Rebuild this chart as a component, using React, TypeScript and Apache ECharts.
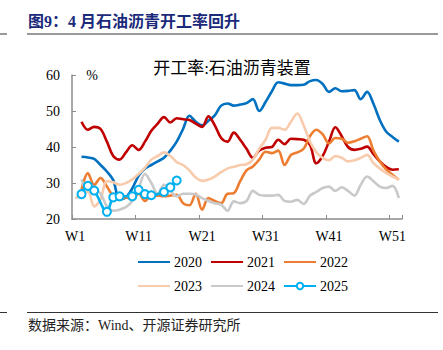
import React, { useEffect, useRef } from "react";
import * as echarts from "echarts";

const weeks: string[] = Array.from({ length: 52 }, (_, i) => `W${i + 1}`);

const s2020 = [null, 37.3, 37.1, 36.7, 35.0, 33.2, 30.8, 25.5, 26.0, 28.5, 32.0, 34.0, 35.0, 36.0, 37.0, 39.0, 41.5, 45.0, 48.7, 47.0, 46.0, 47.3, 48.8, 51.5, 52.1, 51.5, 51.8, 52.2, 53.3, 50.0, 52.5, 55.5, 58.0, 57.6, 57.2, 57.2, 57.3, 58.3, 58.6, 57.5, 55.3, 56.3, 55.5, 55.6, 55.8, 53.3, 55.3, 52.0, 47.5, 44.3, 42.8, 41.5];
const s2021 = [null, 47.0, 44.8, 45.6, 45.0, 41.5, 37.5, 36.5, 38.5, 40.5, 39.2, 41.5, 44.5, 46.5, 48.3, 46.8, 48.0, 47.7, 47.5, 46.5, 45.6, 48.5, 46.0, 42.5, 41.5, 44.0, 42.0, 39.5, 37.0, 39.0, 39.8, 40.0, 42.0, 40.8, 42.3, 42.2, 42.0, 40.6, 35.5, 37.5, 41.5, 45.5, 43.0, 40.0, 39.2, 39.5, 40.1, 38.0, 36.0, 34.5, 33.7, 33.8];
const s2022 = [null, 28.1, 32.7, 29.5, 31.4, 29.0, 26.3, 25.3, 26.0, 25.5, 27.0, 25.0, 26.5, 26.5, 26.3, 26.5, 26.7, 24.4, 23.8, 27.0, 22.6, 25.8, 25.0, 24.4, 27.0, 27.2, 30.5, 33.5, 34.6, 36.5, 38.7, 38.3, 39.0, 35.0, 37.8, 38.5, 39.5, 43.0, 44.8, 43.5, 41.0, 42.5, 42.3, 41.2, 41.6, 42.3, 43.0, 39.0, 36.0, 33.8, 32.3, 30.9];
const s2023 = [25.8, 26.5, 27.6, 23.5, 25.5, 30.5, 30.2, 29.5, 30.0, 31.0, 32.5, 34.3, 36.5, 37.5, 38.5, 37.5, 35.8, 35.0, 33.5, 31.5, 30.6, 31.0, 31.8, 33.0, 34.0, 34.5, 35.0, 35.2, 36.5, 39.5, 42.0, 45.3, 45.3, 44.8, 47.0, 49.3, 46.0, 41.5, 38.5, 37.0, 36.3, 37.5, 37.0, 36.0, 36.3, 37.0, 37.8, 35.5, 34.0, 32.8, 31.8, 31.0];
const s2024 = [null, 31.0, 28.0, 28.1, 27.0, 23.5, 22.3, 22.6, 23.3, 25.0, 28.5, 32.5, 30.0, 27.0, 29.5, 27.8, 26.3, 27.0, 27.0, 26.8, 25.8, 25.0, 24.4, 24.0, 22.3, 24.9, 24.4, 25.0, 27.8, 26.7, 26.5, 26.5, 26.7, 25.0, 24.8, 25.3, 24.2, 26.5, 27.5, 28.6, 29.0, 27.8, 28.8, 27.8, 26.5, 29.5, 31.8, 30.5, 29.0, 28.6, 29.2, 25.8];
const s2025 = [null, 26.9, 29.2, 27.9, null, 22.0, 26.0, 26.3, null, 26.3, 28.1, 26.9, 26.6, null, 27.5, 28.8, 30.7];

const names = ["2020", "2021", "2022", "2023", "2024", "2025"];
const colors = ["#0070C0", "#C00000", "#ED7D31", "#F8CBAD", "#C9C9C9", "#00B0F0"];
const yTicks = { min: 20, max: 60, interval: 10 };

const serif = "'Liberation Serif', 'Times New Roman', 'Noto Sans CJK SC', serif";
const cjk = "'Liberation Serif', 'Noto Sans CJK SC', serif";

export default function App() {
  const ref = useRef<HTMLDivElement>(null);
  useEffect(() => {
    if (!ref.current) return;
    const chart = echarts.init(ref.current, null, { renderer: "svg" });
    const allData = [s2020, s2021, s2022, s2023, s2024, s2025];
    const series: any[] = names.map((n, i) => {
      const is25 = n === "2025";
      return {
        name: n,
        type: "line",
        data: allData[i],
        smooth: 0.35,
        connectNulls: true,
        symbol: is25 ? "circle" : "none",
        symbolSize: 8,
        showSymbol: is25,
        showAllSymbol: true,
        lineStyle: { width: 2.6, color: colors[i] },
        itemStyle: is25
          ? { color: "#FFFFFF", borderColor: colors[i], borderWidth: 2 }
          : { color: colors[i] },
      };
    });
    const legendItem = (n: string) =>
      n === "2025" ? { name: n } : { name: n, itemStyle: { opacity: 0 } };
    const legendBase = {
      left: 132,
      itemWidth: 32,
      itemHeight: 8,
      itemGap: 8,
      textStyle: { color: "#000", fontSize: 14, fontFamily: serif, padding: [0, 0, 0, -1] },
    };
    chart.setOption({
      animation: false,
      backgroundColor: "#FFFFFF",
      grid: { left: 72, right: 41, top: 75, bottom: 131, containLabel: false },
      xAxis: {
        type: "category",
        data: weeks,
        boundaryGap: true,
        axisLine: { lineStyle: { color: "#8C8C8C", width: 1.5 } },
        axisTick: { show: true, inside: true, length: 4, interval: 9, lineStyle: { color: "#8C8C8C" } },
        axisLabel: { interval: 9, color: "#000", fontSize: 14, fontFamily: serif, margin: 10 },
        splitLine: { show: false },
      },
      yAxis: {
        type: "value",
        min: yTicks.min,
        max: yTicks.max,
        interval: yTicks.interval,
        axisLine: { show: true, lineStyle: { color: "#8C8C8C", width: 1.5 } },
        axisTick: { show: true, inside: true, length: 4, lineStyle: { color: "#8C8C8C" } },
        axisLabel: { color: "#000", fontSize: 14, fontFamily: serif, margin: 12 },
        splitLine: { show: false },
      },
      legend: [
        { ...legendBase, top: 250, data: names.slice(0, 3).map(legendItem) },
        { ...legendBase, top: 274, data: names.slice(3, 6).map(legendItem) },
      ],
      graphic: [
        {
          type: "text",
          left: 28,
          top: 13,
          style: { text: "图9：4 月石油沥青开工率回升", fill: "#1B2A7A", font: `bold 16px ${cjk}` },
        },
        { type: "rect", shape: { x: 27, y: 33, width: 411, height: 2 }, style: { fill: "#9A9A9A" } },
        { type: "rect", shape: { x: 0, y: 33, width: 7, height: 2 }, style: { fill: "#9A9A9A" } },
        {
          type: "text",
          x: 232,
          y: 68,
          style: { text: "开工率:石油沥青装置", fill: "#000", font: `17px ${cjk}`, align: "center", verticalAlign: "middle" },
        },
        {
          type: "text",
          x: 92,
          y: 75,
          style: { text: "%", fill: "#000", font: `14px ${serif}`, align: "center", verticalAlign: "middle" },
        },
        { type: "rect", shape: { x: 27, y: 312, width: 411, height: 1 }, style: { fill: "#333" } },
        { type: "rect", shape: { x: 0, y: 312, width: 7, height: 1 }, style: { fill: "#333" } },
        {
          type: "text",
          left: 28,
          top: 318,
          style: { text: "数据来源：Wind、开源证券研究所", fill: "#222", font: `14px ${cjk}` },
        },
      ],
      series,
    });
    return () => chart.dispose();
  }, []);
  return (
    <div
      ref={ref}
      style={{ position: "absolute", left: 0, top: 0, width: 443, height: 350 }}
    />
  );
}
